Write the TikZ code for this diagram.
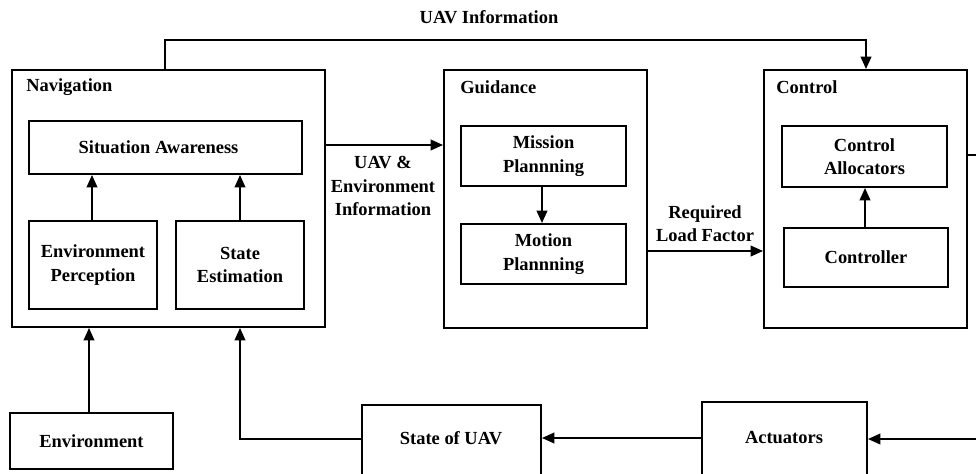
\documentclass[tikz,border=0pt]{standalone}
\usepackage{fontspec}
\setmainfont{Liberation Serif}
\usetikzlibrary{arrows.meta,fit}
\tikzset{
  txt/.style={inner sep=0pt, align=center, font=\fontsize{10.5}{13.3}\selectfont\bfseries},
  box/.style={draw, line width=1.1pt, inner sep=0pt},
  tbox/.style={box, label={[txt]center:#1}},
  wire/.style={line width=1.1pt},
  arr/.style={wire, -{Triangle[length=7pt,width=6pt]}}
}
\begin{document}
\begin{tikzpicture}[x=0.02cm,y=-0.02cm]
\clip (0,0) rectangle (976,473);
\useasboundingbox (0,0) rectangle (976,473);

% outer blocks
\node[box, fit={(12,70) (325,327)}] (nav) {};
\node[box, fit={(444,70) (647,328)}] (gd) {};
\node[box, fit={(764,70) (967,328)}] (ct) {};
\node[txt, anchor=west] (navt) at (26,87) {Navigation};
\node[txt, anchor=west] (gdt) at (460,87) {Guidance};
\node[txt, anchor=west] (ctt) at (776,87) {Control};

% navigation internals
\node[box, fit={(29,121) (302,174)},
      label={[txt, xshift=-0.14cm]center:Situation Awareness}] (sa) {};
\node[tbox={Environment\\Perception}, fit={(29,221) (157,309)}] (ep) {};
\node[tbox={State\\Estimation}, fit={(176,221) (304,309)}] (se) {};

% guidance internals
\node[tbox={Mission\\Plannning}, fit={(461,126) (626,186)}] (mp) {};
\node[tbox={Motion\\Plannning}, fit={(461,224) (626,284)}] (mo) {};

% control internals
\node[tbox={Control\\Allocators}, fit={(782,126) (947,187)}] (ca) {};
\node[tbox={Controller}, fit={(784,228) (948,287)}] (cr) {};

% plant side (lower edges run past the frame)
\node[tbox={Environment}, fit={(10,413) (173,469)}] (env) {};
\node[box, fit={(362,405) (541,490)}] (su) {};
\node[box, fit={(702,402) (867,490)}] (ac) {};
\node[txt] (sut) at (451,438) {State of UAV};
\node[txt] (act) at (784,438) {Actuators};

% connector labels
\node[txt] (tinfo) at (489,17) {UAV Information};
\node[txt] (ninfo) at (383,186) {UAV \&\\Environment\\Information};
\node[txt] (rlf) at (705,224) {Required\\Load Factor};

% coordinates for routed lines
\coordinate (t1) at (165,40);
\coordinate (t2) at (866,40);
\coordinate (fb) at (240,439);
\coordinate (r1) at (990,155);
\coordinate (r2) at (990,439);

% connectors
\draw[arr] (t1 |- nav.north) -- (t1) -- (t2) -- (t2 |- ct.north);
\draw[arr] (nav.east |- 0,145) -- (gd.west |- 0,145);
\draw[arr] (ep.north -| 92,0) -- (sa.south -| 92,0);
\draw[arr] (se.north -| 240,0) -- (sa.south -| 240,0);
\draw[arr] (mp.south -| 542,0) -- (mo.north -| 542,0);
\draw[arr] (gd.east |- 0,251) -- (ct.west |- 0,251);
\draw[arr] (cr.north -| 865,0) -- (ca.south -| 865,0);
\draw[arr] (env.north -| 89,0) -- (nav.south -| 89,0);
\draw[arr] (su.west |- fb) -- (fb) -- (nav.south -| fb);
\draw[arr] (ac.west |- 0,438) -- (su.east |- 0,438);
\draw[arr] (ct.east |- r1) -- (r1) -- (r2) -- (ac.east |- r2);
\end{tikzpicture}
\end{document}
